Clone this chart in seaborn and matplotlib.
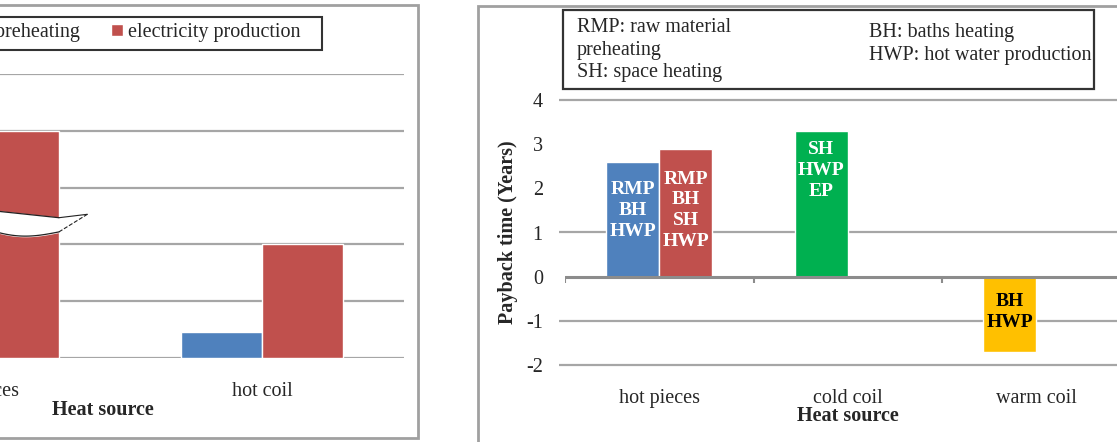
import numpy as np
import pandas as pd
import seaborn as sns
import matplotlib.pyplot as plt
from matplotlib.patches import Rectangle

# left panel (cropped in the reference)
left_sources = ["hot pieces", "hot coil"]
left_uses = ["raw material preheating", "electricity production"]
left_source = ["hot pieces", "hot coil", "hot coil"]
left_use = ["electricity production", "raw material preheating", "electricity production"]
left_value = [4.0, 0.45, 2.0]

# right panel: payback time
sources = ["hot pieces", "cold coil", "warm coil"]
bar_source = ["hot pieces", "hot pieces", "cold coil", "warm coil"]
bar_slot = ["a", "b", "a", "a"]
payback = [2.6, 2.9, 3.3, -1.7]
bar_text = ["RMP\nBH\nHWP", "RMP\nBH\nSH\nHWP", "SH\nHWP\nEP", "BH\nHWP"]

BLUE, RED, GREEN, YELLOW = "#4F81BD", "#C0504D", "#00B050", "#FFC000"
bar_colors = [BLUE, RED, GREEN, YELLOW]
text_colors = ["white", "white", "white", "black"]
text_y = [1.5, 1.5, 2.4, -0.8]
GRID = "#a6a6a6"
FS = 14.5

W, H = 1117, 442

sns.set_theme(style="white")
plt.rcParams["font.family"] = ["Liberation Serif", "DejaVu Serif"]
plt.rcParams["axes.unicode_minus"] = False

fig = plt.figure(figsize=(W / 100, H / 100), dpi=100)


def px_box(x0, y0, x1, y1):
    # pixel box (top-left origin) -> figure fraction [l, b, w, h]
    return [x0 / W, 1 - y1 / H, (x1 - x0) / W, (y1 - y0) / H]


# panel frames
for (x0, y0, x1, y1) in [(-5, 5, 418, 438), (478, 6, 1125, 446)]:
    l, b, w, h = px_box(x0, y0, x1, y1)
    fig.add_artist(Rectangle((l, b), w, h, transform=fig.transFigure,
                             fill=False, edgecolor="#a0a0a0", lw=2))

# ---------------- left panel ----------------
axl = fig.add_axes(px_box(-164, 74, 404, 358))
df_l = pd.DataFrame({"source": left_source, "use": left_use, "value": left_value})
sns.barplot(data=df_l, x="source", y="value", hue="use", order=left_sources,
            hue_order=left_uses, palette=[BLUE, RED], width=0.57, saturation=1,
            errorbar=None, ax=axl, zorder=3)
axl.set_xlim(-0.5, 1.5)
axl.set_ylim(0, 5)
for v in range(0, 6):
    axl.axhline(v, color=GRID, lw=1.6, zorder=1)
sns.despine(ax=axl, left=True, bottom=True)
axl.set_yticks([])
axl.set_ylabel("")
axl.tick_params(axis="x", length=0, pad=17, labelsize=FS)
axl.set_xlabel("Heat source", fontsize=FS, fontweight="bold", labelpad=0)
axl.xaxis.set_label_coords(0.47, -0.148)
sns.move_legend(axl, loc="upper right", bbox_to_anchor=(0.817, 1.18), ncol=2,
                title=None, frameon=False, fontsize=FS,
                handlelength=0.55, handleheight=0.55, handletextpad=0.25,
                columnspacing=1.55, borderpad=0, borderaxespad=0)
# legend frame (left edge falls outside the picture)
l, b, w, h = px_box(-200, 17, 322, 50)
fig.add_artist(Rectangle((l, b), w, h, transform=fig.transFigure, fill=False,
                         edgecolor="#333333", lw=1.5))

# break mark on the tall bar
tall = max(axl.patches[:3], key=lambda p: p.get_height())
x0, x1 = tall.get_x(), tall.get_x() + tall.get_width()
t = np.linspace(0, 1, 60)
xs = x0 + t * (x1 - x0)
top = 2.62 - 0.15 * t
bot = 2.32 - 0.10 * t - 0.12 * np.sin(np.pi * t)
axl.fill_between(xs, bot, top, color="white", zorder=4)
axl.plot(xs, top, color="#222222", lw=0.9, zorder=5)
axl.plot(xs, bot, color="#222222", lw=0.9, zorder=5)
axl.plot([x1, x1 + 0.1], [top[-1], 2.53], color="#222222", lw=0.8, zorder=5)
axl.plot([x1, x1 + 0.1], [bot[-1], 2.53], color="#222222", lw=0.8, ls="--", zorder=5)

# ---------------- right panel ----------------
axr = fig.add_axes(px_box(565, 100, 1130.5, 365))
df_r = pd.DataFrame({"source": bar_source, "slot": bar_slot, "payback": payback,
                     "idx": range(len(payback))})
sns.barplot(data=df_r, x="source", y="payback", hue="slot", order=sources,
            hue_order=["a", "b"], width=0.562, saturation=1, errorbar=None,
            legend=False, ax=axr, zorder=3)
axr.set_xlim(-0.5, 2.5)
axr.set_ylim(-2, 4)

for lvl, cont in zip(["a", "b"], axr.containers):
    rows = df_r[df_r.slot == lvl].copy()
    rows["o"] = rows.source.map(sources.index)
    rows = rows.sort_values("o")
    for bar, i in zip(cont, rows.idx):
        bar.set_facecolor(bar_colors[i])
        cx = bar.get_x() + bar.get_width() / 2
        axr.text(cx, text_y[i], bar_text[i], ha="center", va="center",
                 color=text_colors[i], fontsize=14, fontweight="bold",
                 linespacing=1.3, zorder=6)

axr.hlines([4, 1, -1, -2], -0.011, 1, transform=axr.get_yaxis_transform(),
           color=GRID, lw=1.6, clip_on=False, zorder=1)
axr.axhline(0, color="#8c8c8c", lw=2.2, zorder=4)
axr.vlines(np.arange(-0.5, 2.6, 1.0), -0.14, 0, color="#8c8c8c", lw=1.5, zorder=4)
sns.despine(ax=axr, left=True, bottom=True)
axr.set_yticks(range(-2, 5))
axr.tick_params(axis="y", length=0, pad=16, labelsize=FS)
axr.tick_params(axis="x", length=0, pad=17, labelsize=FS)
axr.set_ylabel("Payback time (Years)", fontsize=FS, fontweight="bold", labelpad=6)
axr.set_xlabel("Heat source", fontsize=FS, fontweight="bold", labelpad=-1)

# abbreviation box
l, b, w, h = px_box(563, 10, 1094, 89)
fig.add_artist(Rectangle((l, b), w, h, transform=fig.transFigure, facecolor="white",
                         edgecolor="#333333", lw=1.6))
fig.text(577 / W, 1 - 18 / H, "RMP: raw material\npreheating\nSH: space heating",
         ha="left", va="top", fontsize=FS, linespacing=1.26)
fig.text(869 / W, 1 - 23 / H, "BH: baths heating\nHWP: hot water production",
         ha="left", va="top", fontsize=FS, linespacing=1.26)

fig.savefig("out.png", dpi=100)
